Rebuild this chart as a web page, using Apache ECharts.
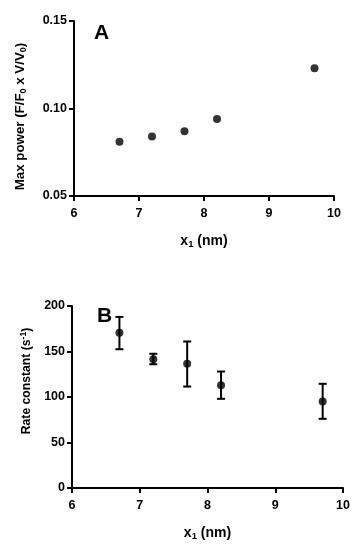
<!DOCTYPE html>
<html>
<head>
<meta charset="utf-8">
<script src="https://cdn.jsdelivr.net/npm/echarts@6/dist/echarts.min.js"></script>
<style>html,body{margin:0;padding:0;background:#fff}#c{width:360px;height:550px}</style>
</head>
<body>
<div id="c"></div>
<script>
var xA = [6.7, 7.2, 7.7, 8.2, 9.7];
var powerA = [0.081, 0.084, 0.087, 0.094, 0.123];
var xB = [6.7, 7.2, 7.7, 8.2, 9.7];
var rateB = [170.5, 141.5, 136.5, 113, 95];
var rateLow = [152.5, 136, 111.5, 98, 76];
var rateHigh = [188, 147.5, 161, 128, 114.5];
var xTicks = [6, 7, 8, 9, 10];

var FONT = '"Liberation Sans", Arial, sans-serif';
var axisLine = {lineStyle: {color: '#000', width: 2}};
var axisTick = {length: 5, lineStyle: {color: '#000', width: 2}};
var labelStyle = {color: '#000', fontWeight: 'bold', fontSize: 12.5, fontFamily: FONT};
function nameStyle(size, sub, pad) {
  return {color: '#000', fontWeight: 'bold', fontSize: size, fontFamily: FONT, padding: pad || 0,
    rich: {
      sub: {fontSize: sub, fontWeight: 'bold', fontFamily: FONT, color: '#000', verticalAlign: 'bottom', padding: [6, 0, 0, 0]},
      sup: {fontSize: sub, fontWeight: 'bold', fontFamily: FONT, color: '#000', verticalAlign: 'top', padding: [0, 0, 6, 0]}
    }};
}

function xAxisDef(idx) {
  return {
    type: 'value', gridIndex: idx, min: 6, max: 10, interval: 1,
    name: 'x{sub|1} (nm)', nameLocation: 'middle', nameGap: 37,
    nameTextStyle: nameStyle(14, 9.5),
    axisLine: axisLine, axisTick: axisTick, splitLine: {show: false},
    axisLabel: Object.assign({margin: 11}, labelStyle)
  };
}

var chart = echarts.init(document.getElementById('c'), null, {renderer: 'canvas'});
chart.setOption({
  animation: false,
  backgroundColor: '#fff',
  grid: [
    {left: 74, right: 26, top: 21, bottom: 354},
    {left: 72, right: 17, top: 306, bottom: 62}
  ],
  title: [
    {text: 'A', left: 89, top: 18, textStyle: {fontSize: 21, fontWeight: 'bold', fontFamily: FONT, color: '#000'}},
    {text: 'B', left: 92, top: 301, textStyle: {fontSize: 21, fontWeight: 'bold', fontFamily: FONT, color: '#000'}}
  ],
  xAxis: [xAxisDef(0), xAxisDef(1)],
  yAxis: [
    {type: 'value', gridIndex: 0, min: 0.05, max: 0.15, interval: 0.05,
     name: 'Max power (F/F{sub|0} x V/V{sub|0})', nameLocation: 'middle', nameGap: 46,
     nameTextStyle: nameStyle(13.3, 9, [0, 16, 0, 0]),
     axisLine: axisLine, axisTick: axisTick, splitLine: {show: false},
     axisLabel: Object.assign({margin: 7, formatter: function (v) { return v.toFixed(2); }}, labelStyle)},
    {type: 'value', gridIndex: 1, min: 0, max: 200, interval: 50,
     name: 'Rate constant (s{sup|-1})', nameLocation: 'middle', nameGap: 38,
     nameTextStyle: nameStyle(12.2, 8.5, [0, 0, 0, 32]),
     axisLine: axisLine, axisTick: axisTick, splitLine: {show: false},
     axisLabel: Object.assign({margin: 7}, labelStyle)}
  ],
  series: [
    {type: 'scatter', xAxisIndex: 0, yAxisIndex: 0, symbol: 'circle', symbolSize: 8,
     itemStyle: {color: '#000'},
     data: xA.map(function (x, i) { return [x, powerA[i]]; })},
    {type: 'custom', xAxisIndex: 1, yAxisIndex: 1,
     data: xB.map(function (x, i) { return [x, rateLow[i], rateHigh[i]]; }),
     renderItem: function (params, api) {
       var lo = api.coord([api.value(0), api.value(1)]);
       var hi = api.coord([api.value(0), api.value(2)]);
       var hw = 4;
       var st = {stroke: '#000', lineWidth: 2};
       return {type: 'group', children: [
         {type: 'line', shape: {x1: lo[0], y1: lo[1], x2: hi[0], y2: hi[1]}, style: st},
         {type: 'line', shape: {x1: lo[0] - hw, y1: lo[1], x2: lo[0] + hw, y2: lo[1]}, style: st},
         {type: 'line', shape: {x1: hi[0] - hw, y1: hi[1], x2: hi[0] + hw, y2: hi[1]}, style: st}
       ]};
     }},
    {type: 'scatter', xAxisIndex: 1, yAxisIndex: 1, symbol: 'circle', symbolSize: 8,
     itemStyle: {color: '#000'}, z: 5,
     data: xB.map(function (x, i) { return [x, rateB[i]]; })}
  ]
});
</script>
</body>
</html>
